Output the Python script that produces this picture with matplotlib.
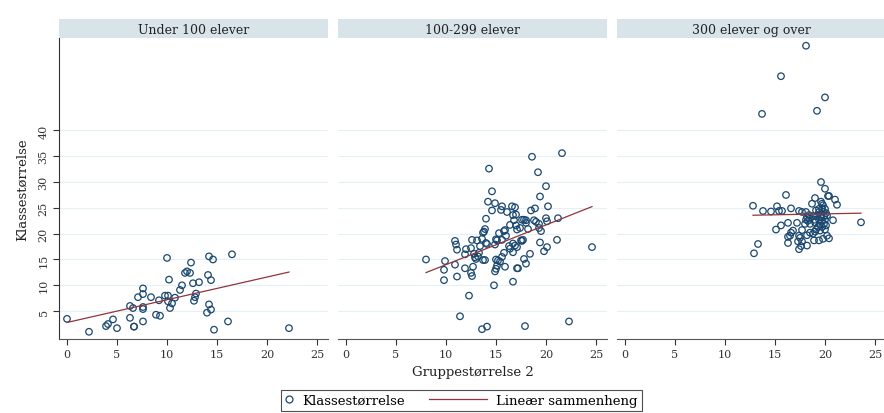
import matplotlib
matplotlib.use("Agg")
import matplotlib.pyplot as plt
import numpy as np
from matplotlib.lines import Line2D
from matplotlib.legend_handler import HandlerBase

plt.rcParams['font.family'] = ['DejaVu Serif']

# panel titles
panels = ["Under 100 elever", "100-299 elever", "300 elever og over"]

# Under 100 elever: gruppestørrelse / klassestørrelse
x_small = [0.0, 2.2, 3.9, 4.1, 4.6, 5.0, 6.3, 6.3, 6.6, 6.7, 6.7, 7.1, 7.6, 7.6, 7.6,
           7.6, 7.6, 8.4, 8.9, 9.3, 9.2, 9.8, 10.0, 10.1, 10.2, 10.1, 10.3, 10.5, 10.8,
           11.3, 11.5, 11.8, 12.0, 12.3, 12.4, 12.6, 12.8, 12.7, 12.9, 13.2, 14.0, 14.1,
           14.2, 14.2, 14.4, 14.4, 14.6, 14.7, 16.1, 16.5, 22.2]
y_small = [3.5, 1.0, 2.1, 2.5, 3.4, 1.7, 3.7, 6.0, 5.6, 2.0, 2.0, 7.7, 8.3, 9.4, 5.8,
           5.4, 3.0, 7.7, 4.3, 4.1, 7.1, 8.0, 15.3, 8.0, 11.1, 6.9, 5.6, 6.5, 7.6,
           9.1, 10.0, 12.4, 12.7, 12.4, 14.4, 10.4, 7.7, 7.0, 8.4, 10.6, 4.7, 12.0,
           15.6, 6.3, 5.3, 11.0, 15.0, 1.4, 3.0, 16.0, 1.7]

# 100-299 elever
x_mid = [8.0, 9.9, 9.8, 9.8, 10.9, 11.0, 11.1, 10.9, 11.1, 11.4, 11.9, 12.0, 11.9, 12.3,
         12.5, 12.6, 12.7, 12.6, 12.5, 12.8, 12.9, 13.0, 13.2, 13.3, 13.1, 13.4, 13.6,
         13.7, 13.8, 13.9, 13.7, 13.9, 13.6, 14.1, 14.0, 14.0, 14.1, 14.2, 14.3, 14.6,
         14.6, 14.9, 14.8, 14.9, 15.0, 15.1, 15.0, 15.2, 15.4, 14.9, 15.0, 15.1, 15.3,
         15.6, 15.6, 15.6, 15.5, 15.8, 15.9, 15.8, 15.9, 16.0, 16.1, 16.3, 16.4, 16.4,
         16.6, 16.7, 16.7, 16.7, 16.9, 16.7, 16.9, 17.0, 16.8, 17.0, 17.1, 17.1, 17.2,
         17.1, 17.4, 17.5, 17.6, 17.7, 17.6, 17.8, 18.0, 17.8, 17.9, 18.0, 18.0, 18.2,
         18.4, 18.5, 18.6, 18.9, 18.8, 19.0, 19.2, 19.3, 19.3, 19.4, 19.4, 19.5, 19.8,
         20.0, 20.0, 20.1, 20.1, 20.2, 21.1, 21.2, 21.6, 22.3, 24.6]
y_mid = [15.0, 14.7, 13.0, 11.0, 18.6, 17.9, 16.9, 14.0, 11.7, 4.0, 13.3, 17.0, 16.0, 8.0,
         12.4, 11.8, 13.6, 18.8, 17.2, 16.1, 15.4, 15.1, 15.6, 16.3, 18.7, 17.6, 19.0,
         20.2, 20.4, 20.9, 14.9, 14.9, 1.5, 2.0, 22.9, 18.2, 18.0, 26.2, 32.6, 28.2,
         24.5, 25.9, 10.0, 12.7, 13.2, 13.8, 15.0, 14.8, 14.6, 17.9, 18.9, 18.7, 20.1,
         18.8, 15.5, 25.3, 24.6, 20.5, 20.7, 16.3, 13.6, 19.6, 24.2, 17.6, 17.1, 21.7,
         25.3, 23.6, 16.4, 18.1, 17.7, 10.7, 25.1, 23.7, 22.6, 21.6, 20.8, 13.3, 13.3,
         17.4, 21.1, 18.7, 18.6, 18.8, 22.7, 22.7, 22.6, 15.1, 2.1, 14.2, 22.1, 20.9,
         16.1, 24.5, 34.9, 24.9, 22.6, 22.3, 31.9, 21.9, 21.1, 18.3, 27.2, 20.5, 16.6,
         29.2, 23.0, 22.4, 17.4, 25.3, 18.8, 23.0, 35.6, 3.0, 17.4]

# 300 elever og over
x_big = [18.1, 15.6, 20.0, 19.2, 13.7, 19.6, 20.0, 16.1, 19.0, 20.3, 20.4, 21.0, 21.2,
         18.7, 12.8, 13.8, 14.6, 15.2, 15.4, 15.7, 16.6, 17.4, 17.7, 18.1, 18.2, 18.1,
         18.3, 18.5, 18.5, 18.0, 17.2, 16.3, 15.1, 15.6, 16.8, 16.6, 16.5, 16.3, 16.3,
         17.4, 17.5, 17.3, 17.7, 17.4, 17.6, 18.2, 17.7, 18.2, 18.5, 18.8, 19.0, 18.9,
         19.4, 19.8, 20.2, 20.4, 20.8, 23.6, 13.3, 12.9,
         19.6, 19.7, 19.8, 19.4, 19.7, 20.0, 19.1, 19.4, 19.8, 20.1, 19.2, 19.6, 19.9,
         20.2, 19.4, 19.7, 20.0, 19.0, 19.5, 19.9, 19.3, 19.7, 20.1, 19.1, 19.5, 20.0,
         18.8, 18.4, 19.0]
y_big = [56.4, 50.5, 46.4, 43.8, 43.2, 30.0, 28.7, 27.5, 26.9, 27.3, 27.3, 26.6, 25.6,
         25.8, 25.4, 24.4, 24.3, 25.3, 24.4, 24.4, 24.9, 24.4, 24.2, 24.2, 23.2, 22.7,
         22.5, 22.9, 21.9, 21.9, 22.1, 22.1, 20.8, 21.6, 20.6, 20.2, 19.6, 19.4, 18.2,
         19.6, 19.2, 18.5, 18.5, 17.0, 17.6, 17.7, 20.7, 19.7, 20.2, 20.0, 20.4, 18.7,
         18.7, 19.0, 19.6, 19.1, 22.6, 22.2, 18.0, 16.2,
         26.2, 25.8, 25.5, 24.8, 24.8, 24.8, 24.5, 24.2, 24.2, 24.0, 23.5, 23.4, 23.4,
         23.5, 22.7, 22.5, 22.7, 22.2, 21.9, 21.9, 21.3, 21.3, 21.6, 20.8, 20.6, 20.8,
         23.4, 23.6, 22.7]

# linear fit per panel (intercept, slope)
fit_intercept = [2.8, 6.3, 23.1]
fit_slope = [0.44, 0.77, 0.037]

xs = [x_small, x_mid, x_big]
ys = [y_small, y_mid, y_big]

navy = "#1a476f"
maroon = "#90353b"


class LongLine(HandlerBase):
    # legend line that reaches further left than the (short) handle box
    def create_artists(self, legend, orig_handle, xdescent, ydescent,
                       width, height, fontsize, trans):
        y = height / 2 - ydescent
        x1 = width - xdescent
        ln = Line2D([x1 - 42, x1], [y, y], color=orig_handle.get_color(),
                    lw=orig_handle.get_linewidth(), transform=trans)
        return [ln]


fig = plt.figure(figsize=(8.84, 4.14), dpi=100)
lefts = [59, 338, 617]
bottom = 1 - 340 / 414
height = (340 - 39) / 414
w = 269 / 884

for i in range(3):
    ax = fig.add_axes([lefts[i] / 884, bottom, w, height])
    x = np.array(xs[i])
    y = np.array(ys[i])
    ax.scatter(x, y, s=22, facecolors='none', edgecolors=navy, linewidths=0.9, zorder=3)
    xl = np.array([x.min(), x.max()])
    ax.plot(xl, fit_intercept[i] + fit_slope[i] * xl, color=maroon, lw=0.9, zorder=4)

    ax.set_xlim(-0.8, 26.1)
    ax.set_ylim(-0.4, 57.9)
    ax.set_xticks([0, 5, 10, 15, 20, 25])
    ax.set_yticks([5, 10, 15, 20, 25, 30, 35, 40])
    ax.grid(axis='y', color='#e6eff1', lw=0.8)
    ax.set_axisbelow(True)
    for s in ['top', 'right']:
        ax.spines[s].set_visible(False)
    ax.spines['bottom'].set_color('#555555')
    ax.spines['left'].set_color('#333333')
    ax.tick_params(axis='both', labelsize=8, colors='#333333', length=4, width=0.8)
    if i == 0:
        for lab in ax.get_yticklabels():
            lab.set_rotation(90)
            lab.set_va('center')
        ax.set_ylabel("Klassestørrelse", fontsize=9.5, color='#222222', labelpad=7)
    else:
        ax.spines['left'].set_visible(False)
        ax.tick_params(axis='y', left=False, labelleft=False)
    if i == 1:
        ax.set_xlabel("Gruppestørrelse 2", fontsize=9.5, color='#222222', labelpad=4)

    # strip header
    strip = fig.add_axes([lefts[i] / 884, 1 - 39 / 414, w, 19 / 414])
    strip.set_facecolor('#d9e4ea')
    strip.set_xticks([])
    strip.set_yticks([])
    for s in strip.spines.values():
        s.set_visible(False)
    strip.text(0.5, 0.45, panels[i], ha='center', va='center', fontsize=9, color='#222222')

h_pts = Line2D([], [], marker='o', ls='none', markerfacecolor='none',
               markeredgecolor=navy, markersize=5, markeredgewidth=0.9)
h_fit = Line2D([], [], color=maroon, lw=0.9)
leg = fig.legend([h_pts, h_fit], ["Klassestørrelse", "Lineær sammenheng"], ncol=2,
                 loc='upper center', bbox_to_anchor=(0.522, 0.072), frameon=True,
                 fancybox=False, edgecolor='#222222', fontsize=9.5, handlelength=0.6,
                 handletextpad=0.7, columnspacing=5.6, borderpad=0.3,
                 handler_map={h_fit: LongLine()})
leg.get_frame().set_linewidth(0.8)

fig.savefig("out.png", dpi=100)
